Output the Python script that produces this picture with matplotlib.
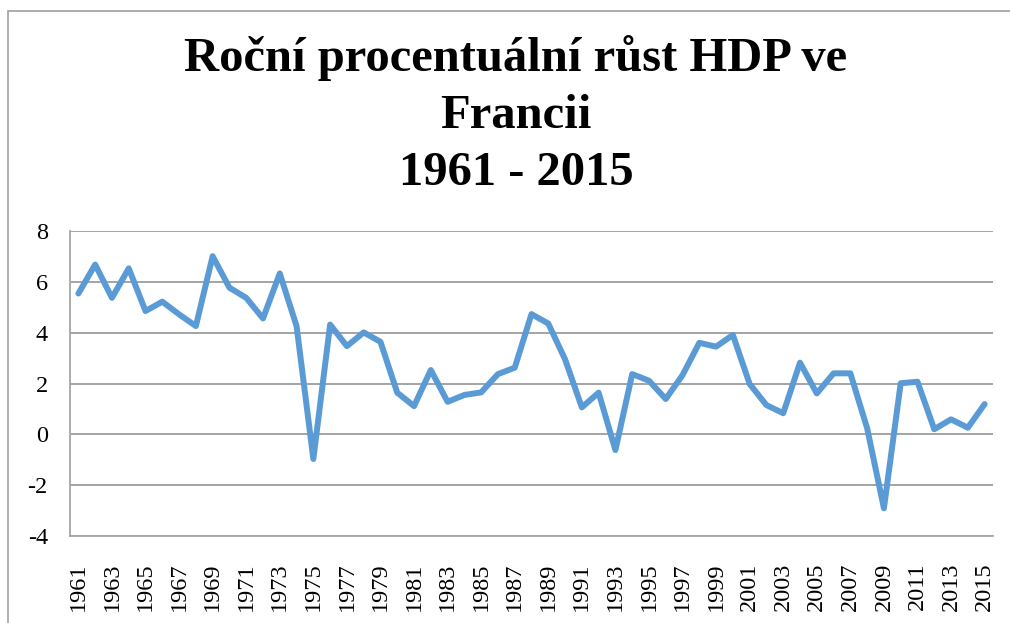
import matplotlib
matplotlib.use("Agg")
import matplotlib.pyplot as plt
from matplotlib.patches import Rectangle

years = list(range(1961, 2016))
growth = [5.54, 6.68, 5.37, 6.53, 4.85, 5.22, 4.72, 4.26, 7.01, 5.77,
          5.37, 4.56, 6.33, 4.26, -0.97, 4.32, 3.47, 4.01, 3.64, 1.64,
          1.11, 2.53, 1.28, 1.55, 1.65, 2.37, 2.62, 4.73, 4.36, 2.95,
          1.06, 1.64, -0.62, 2.37, 2.11, 1.39, 2.33, 3.60, 3.45, 3.91,
          1.98, 1.15, 0.83, 2.82, 1.61, 2.40, 2.40, 0.24, -2.91, 2.01,
          2.07, 0.20, 0.59, 0.26, 1.19]
y_ticks = [-4, -2, 0, 2, 4, 6, 8]
x_tick_years = list(range(1961, 2016, 2))
title = "Roční procentuální růst HDP ve\nFrancii\n1961 - 2015"

plt.rcParams['font.family'] = ['Liberation Serif', 'DejaVu Serif']

fig = plt.figure(figsize=(10.1, 6.23), dpi=100)
W, H = 1010, 623
ax = fig.add_axes([70 / W, 1 - 536 / H, (993 - 70) / W, (536 - 231) / H])

# outer chart border
fig.patches.append(Rectangle((8 / W, -0.05), 1.1, 1 - 11 / H + 0.05,
                             transform=fig.transFigure, fill=False,
                             edgecolor='#a0a0a0', linewidth=1.2, zorder=0))

ax.plot(years, growth, color='#5B9BD5', linewidth=4.3, solid_joinstyle='round',
        solid_capstyle='round', zorder=3)

ax.set_xlim(1960.5, 2015.5)
ax.set_ylim(-4, 8)
ax.set_yticks(y_ticks)
ax.set_yticklabels([str(v) for v in y_ticks])
ax.set_xticks(x_tick_years)
ax.set_xticklabels([str(y) for y in x_tick_years], rotation=90)

ax.grid(axis='y', color='#8c8c8c', linewidth=1.1, zorder=1)
ax.set_axisbelow(True)
for s in ['top', 'right']:
    ax.spines[s].set_visible(False)
ax.spines['left'].set_color('#a6a6a6')
ax.spines['left'].set_linewidth(1.3)
ax.spines['bottom'].set_color('#a6a6a6')
ax.spines['bottom'].set_linewidth(1.3)

ax.tick_params(axis='y', length=0, pad=16, labelsize=17.5)
ax.tick_params(axis='x', length=0, pad=19, labelsize=17.5)

fig.text(516 / W, 1 - 35 / H, title, ha='center', va='top', fontsize=35,
         fontweight='bold', linespacing=1.38)

fig.savefig("out.png", dpi=100, facecolor='white')
